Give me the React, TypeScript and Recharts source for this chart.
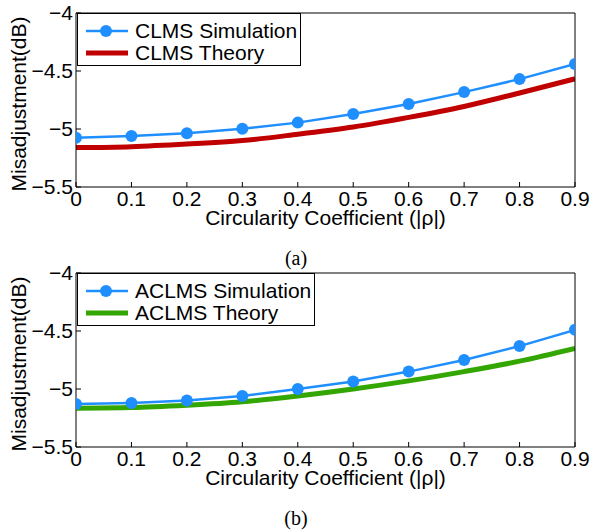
import React from 'react';
import { LineChart, Line, XAxis, YAxis, Legend } from 'recharts';

const xValues = [0, 0.1, 0.2, 0.3, 0.4, 0.5, 0.6, 0.7, 0.8, 0.9];
const xTicks = [0, 0.1, 0.2, 0.3, 0.4, 0.5, 0.6, 0.7, 0.8, 0.9];
const yTicks = [-5.5, -5, -4.5, -4];

const clmsSim = [-5.075, -5.06, -5.037, -4.997, -4.945, -4.87, -4.785, -4.682, -4.57, -4.44];
const clmsTheory = [-5.16, -5.152, -5.13, -5.1, -5.045, -4.983, -4.9, -4.806, -4.69, -4.567];
const aclmsSim = [-5.13, -5.12, -5.1, -5.06, -5.0, -4.935, -4.85, -4.75, -4.63, -4.49];
const aclmsTheory = [-5.165, -5.16, -5.14, -5.11, -5.06, -5.0, -4.93, -4.85, -4.76, -4.65];

const BLUE = '#1f8fff';
const RED = '#c00000';
const GREEN = '#33a602';
const FONT = '"Liberation Sans", Arial, Helvetica, sans-serif';
const FS = 21;

interface Series {
  key: string;
  name: string;
  color: string;
  width: number;
  marker: boolean;
}

const makeRows = (sim: number[], theory: number[]) =>
  xValues.map((x, i) => ({ x, sim: sim[i], theory: theory[i] }));

const fmtY = (v: number) => String(v).replace('-', '\u2212');

const YTitle = (props: any) => {
  const { x, y, height } = props.viewBox;
  const cx = x + 26;
  const cy = y + height / 2 + 4;
  return (
    <text
      x={cx}
      y={cy}
      transform={`rotate(-90 ${cx} ${cy})`}
      textAnchor="middle"
      fontSize={FS}
      fill="#000"
    >
      Misadjustment(dB)
    </text>
  );
};

const LegendBox = ({ series }: { series: Series[] }) => (
  <div
    style={{
      border: '1px solid #000',
      background: '#fff',
      padding: '6px 3px 1px 8px',
      fontFamily: FONT,
      fontSize: FS,
      color: '#000',
    }}
  >
    {series.map((s) => (
      <div key={s.key} style={{ display: 'flex', alignItems: 'center', height: 22 }}>
        <svg width={42} height={22} style={{ display: 'block' }}>
          <line x1={0} y1={11} x2={42} y2={11} stroke={s.color} strokeWidth={s.width} />
          {s.marker && <circle cx={20} cy={11} r={6} fill={s.color} />}
        </svg>
        <span style={{ marginLeft: 7, whiteSpace: 'nowrap', lineHeight: '22px' }}>{s.name}</span>
      </div>
    ))}
  </div>
);

const Panel = ({ rows, series }: { rows: any[]; series: Series[] }) => (
  <LineChart
    width={592}
    height={240}
    data={rows}
    margin={{ top: 12, right: 16, bottom: 0, left: 0 }}
    style={{ fontFamily: FONT }}
  >
    <XAxis
      dataKey="x"
      type="number"
      domain={[0, 0.9]}
      ticks={xTicks}
      allowDataOverflow
      height={53}
      stroke="#000"
      tickSize={-5}
      tickMargin={9}
      tick={{ fontSize: FS, fill: '#000' }}
      tickFormatter={(v: number) => String(v)}
      label={{
        value: 'Circularity Coefficient (|\u03c1|)',
        position: 'insideBottom',
        offset: 15,
        fill: '#000',
        fontSize: FS,
      }}
    />
    <XAxis
      xAxisId="top"
      orientation="top"
      dataKey="x"
      type="number"
      domain={[0, 0.9]}
      ticks={xTicks}
      allowDataOverflow
      height={1}
      stroke="#000"
      tickSize={-5}
      tick={false}
    />
    <YAxis
      type="number"
      domain={[-5.5, -4]}
      ticks={yTicks}
      allowDataOverflow
      width={76}
      stroke="#000"
      tickSize={-5}
      tickMargin={8}
      tick={{ fontSize: FS, fill: '#000' }}
      tickFormatter={fmtY}
      label={<YTitle />}
    />
    <YAxis
      yAxisId="right"
      orientation="right"
      type="number"
      domain={[-5.5, -4]}
      ticks={yTicks}
      allowDataOverflow
      width={1}
      stroke="#000"
      tickSize={-5}
      tick={false}
    />
    <Legend
      layout="vertical"
      align="center"
      verticalAlign="middle"
      wrapperStyle={{ left: 77, top: 13, width: 'auto' }}
      content={() => <LegendBox series={series} />}
    />
    {/* invisible series so the frame axes (top / right) get a domain */}
    <Line
      xAxisId="top"
      yAxisId="right"
      dataKey="sim"
      stroke="none"
      dot={false}
      activeDot={false}
      legendType="none"
      isAnimationActive={false}
    />
    {series.map((s) => (
      <Line
        key={s.key}
        dataKey={s.key}
        name={s.name}
        type={s.marker ? 'linear' : 'monotone'}
        stroke={s.color}
        strokeWidth={s.width}
        dot={s.marker ? { r: 6, fill: s.color, stroke: 'none' } : false}
        activeDot={false}
        isAnimationActive={false}
      />
    ))}
  </LineChart>
);

const clmsSeries: Series[] = [
  { key: 'sim', name: 'CLMS Simulation', color: BLUE, width: 2.5, marker: true },
  { key: 'theory', name: 'CLMS Theory', color: RED, width: 5, marker: false },
];

const aclmsSeries: Series[] = [
  { key: 'sim', name: 'ACLMS Simulation', color: BLUE, width: 2.5, marker: true },
  { key: 'theory', name: 'ACLMS Theory', color: GREEN, width: 5, marker: false },
];

const captionStyle: React.CSSProperties = {
  position: 'absolute',
  left: 0,
  width: 592,
  textAlign: 'center',
  fontFamily: '"Liberation Serif", "Times New Roman", serif',
  fontSize: 20,
  lineHeight: '20px',
  color: '#000',
};

export default function App() {
  return (
    <div style={{ position: 'absolute', left: 0, top: 0, width: 592, height: 531, background: '#fff' }}>
      <div style={{ position: 'absolute', left: 0, top: 0 }}>
        <Panel rows={makeRows(clmsSim, clmsTheory)} series={clmsSeries} />
      </div>
      <div style={{ ...captionStyle, top: 248 }}>(a)</div>
      <div style={{ position: 'absolute', left: 0, top: 260 }}>
        <Panel rows={makeRows(aclmsSim, aclmsTheory)} series={aclmsSeries} />
      </div>
      <div style={{ ...captionStyle, top: 508 }}>(b)</div>
    </div>
  );
}
